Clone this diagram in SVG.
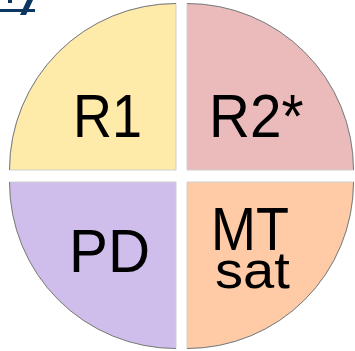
<svg xmlns="http://www.w3.org/2000/svg" width="355" height="351" viewBox="0 0 355 351">
<style>
.q{stroke:#cfcfcf;stroke-width:1}
.arc{fill:none;stroke:#555;stroke-width:0.7}
.t{font-family:"Liberation Sans",Arial,sans-serif;font-size:54px;fill:#000}
.s{font-family:"Liberation Sans",Arial,sans-serif;font-size:51px;fill:#000}
</style>
<rect width="355" height="351" fill="#fff"/>
<g id="label-fragment" fill="#0d3763">
<rect x="0" y="9" width="35" height="3"/>
<polygon points="27,0 33,0 26,15 20,15"/>
<rect x="8" y="0" width="4" height="3"/>
</g>
<g id="R1">
<path class="q" fill="#ffeba9" d="M176,170 L9.5,170 A166.5,166.5 0 0 1 176,3.5 Z"/>
<path class="arc" d="M9.5,170 A166.5,166.5 0 0 1 176,3.5"/>
<text class="t" transform="translate(73,137) scale(1,1.12)">R1</text>
</g>
<g id="R2">
<path class="q" fill="#ebbabb" d="M187,170 L187,3.5 A166.5,166.5 0 0 1 353.5,170 Z"/>
<path class="arc" d="M187,3.5 A166.5,166.5 0 0 1 353.5,170"/>
<text class="t" transform="translate(209,137) scale(1.05,1.12)">R2*</text>
</g>
<g id="PD">
<path class="q" fill="#cfbdeb" d="M176,182 L176,348.5 A166.5,166.5 0 0 1 9.5,182 Z"/>
<path class="arc" d="M176,348.5 A166.5,166.5 0 0 1 9.5,182"/>
<text class="t" transform="translate(69,272) scale(1.08,1.12)">PD</text>
</g>
<g id="MTsat">
<path class="q" fill="#fecba6" d="M187,182 L353.5,182 A166.5,166.5 0 0 1 187,348.5 Z"/>
<path class="arc" d="M353.5,182 A166.5,166.5 0 0 1 187,348.5"/>
<text class="t" transform="translate(211,250) scale(1,1.12)">MT</text>
<text class="s" transform="translate(215,288) scale(1.1,1)">sat</text>
</g>
<g id="connectors"/>
</svg>
